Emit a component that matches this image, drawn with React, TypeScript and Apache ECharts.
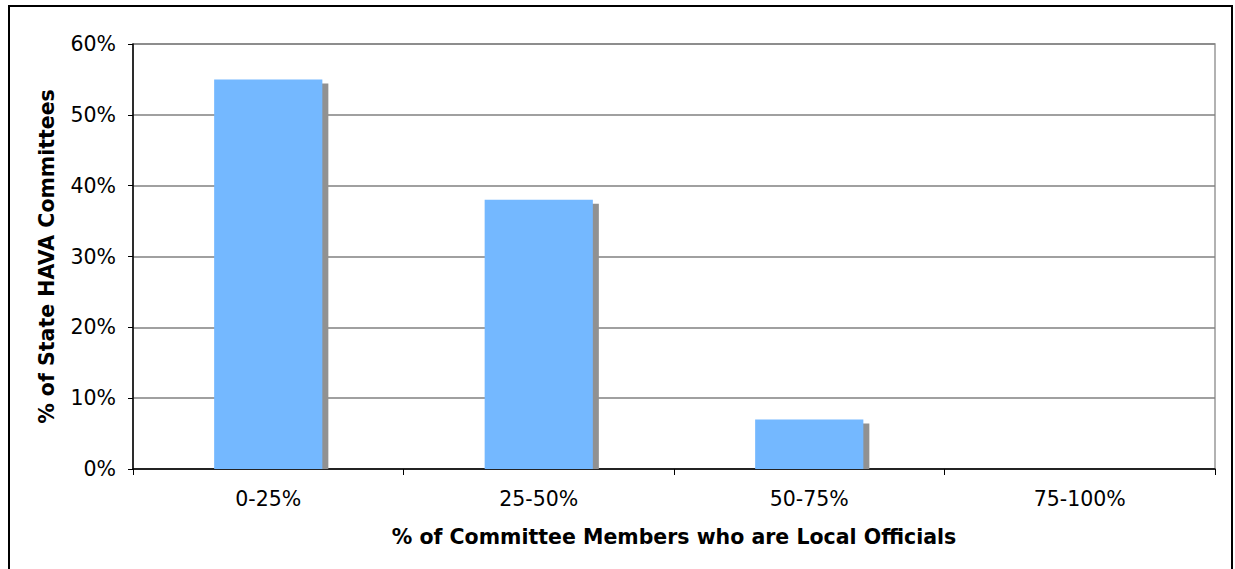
import React, { useEffect, useRef } from "react";
import * as echarts from "echarts";

const categories = ["0-25%", "25-50%", "50-75%", "75-100%"];
const shares = [55, 38, 7, 0];
const yTicks = { min: 0, max: 60, interval: 10 };
const xTitle = "% of Committee Members who are Local Officials";
const yTitle = "% of State HAVA Committees";

const FONT = "'DejaVu Sans', Verdana, sans-serif";

export default function App() {
  const ref = useRef<HTMLDivElement>(null);
  useEffect(() => {
    if (!ref.current) return;
    const chart = echarts.init(ref.current, null, { renderer: "svg" });
    const shadowData = shares.map((v, i) => [i, v]);
    chart.setOption({
      animation: false,
      backgroundColor: "#ffffff",
      textStyle: { fontFamily: FONT },
      graphic: [
        {
          type: "rect",
          shape: { x: 9, y: 6, width: 1223, height: 600 },
          style: { fill: "none", stroke: "#000", lineWidth: 2 },
          silent: true,
        },
      ],
      grid: {
        left: 133,
        top: 44,
        width: 1082,
        height: 425,
        show: true,
        borderColor: "#999",
        borderWidth: 1.5,
        backgroundColor: "transparent",
      },
      xAxis: {
        type: "category",
        data: categories,
        boundaryGap: true,
        name: xTitle,
        nameLocation: "middle",
        nameGap: 57,
        nameTextStyle: { fontFamily: FONT, fontWeight: "bold", fontSize: 20.5, color: "#000" },
        axisLine: { show: true, lineStyle: { color: "#000", width: 1.5 } },
        axisTick: { show: true, alignWithLabel: false, length: 6, lineStyle: { color: "#000", width: 1 } },
        axisLabel: { margin: 19, fontFamily: FONT, fontSize: 20.5, color: "#000" },
        splitLine: { show: false },
      },
      yAxis: {
        type: "value",
        min: yTicks.min,
        max: yTicks.max,
        interval: yTicks.interval,
        name: yTitle,
        nameLocation: "middle",
        nameRotate: 90,
        nameGap: 76,
        nameTextStyle: { fontFamily: FONT, fontWeight: "bold", fontSize: 20.5, color: "#000" },
        axisLine: { show: true, lineStyle: { color: "#000", width: 1.5 } },
        axisTick: { show: true, length: 5, lineStyle: { color: "#000", width: 1 } },
        axisLabel: { margin: 17, fontFamily: FONT, fontSize: 20.5, color: "#000", formatter: "{value}%" },
        splitLine: { show: true, lineStyle: { color: "#808080", width: 1.5 } },
      },
      series: [
        {
          type: "custom",
          z: 1,
          silent: true,
          data: shadowData,
          encode: { x: 0, y: 1 },
          renderItem: (params: any, api: any) => {
            const idx = api.value(0);
            const v = api.value(1);
            if (!(v > 0)) return null;
            const top = api.coord([idx, v]);
            const base = api.coord([idx, 0]);
            const w = api.size([1, 0])[0] * 0.4;
            return {
              type: "rect",
              shape: { x: top[0] - w / 2 + 6, y: top[1] + 4, width: w, height: base[1] - top[1] - 4 },
              style: { fill: "#919191" },
            };
          },
        },
        {
          type: "bar",
          z: 3,
          data: shares,
          barWidth: "40%",
          itemStyle: { color: "#74B8FF" },
          silent: true,
        },
      ],
    });
    return () => chart.dispose();
  }, []);
  return (
    <div
      ref={ref}
      style={{ position: "fixed", left: 0, top: 0, width: 1235, height: 569 }}
    />
  );
}
